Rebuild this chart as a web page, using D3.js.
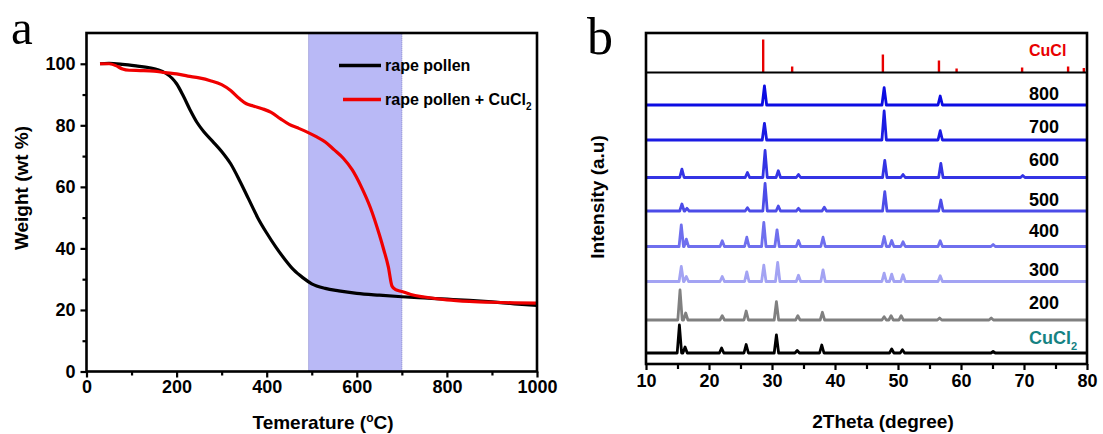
<!DOCTYPE html>
<html><head><meta charset="utf-8">
<script src="https://cdn.jsdelivr.net/npm/d3@7"></script>
<style>
html,body{margin:0;padding:0;background:#fff;}
svg{display:block;}
text{font-family:Arial,"Liberation Sans",sans-serif;font-weight:bold;fill:#000;}
</style></head>
<body>
<svg id="chart" width="1103" height="434"></svg>
<script>
// ---------- Panel a: TGA data ----------
const tempBlack = [30,50,80,110,140,160,175,190,200,215,230,245,260,280,300,320,340,360,380,400,420,440,460,480,500,530,560,600,650,700,750,800,850,900,950,1000];
const weightBlack = [100,100.1,99.8,99.3,98.7,98,97,95.3,93.5,89.5,85,81,78,74.8,71.5,67.5,62,56,50,45,40.5,36.5,33,30.5,28.5,27,26.2,25.4,24.8,24.3,23.9,23.5,23.1,22.6,22,21.5];
const tempRed = [30,50,65,80,95,120,150,175,200,225,250,275,300,320,340,355,370,390,410,430,450,470,490,510,530,550,570,590,610,630,650,660,670,678,686,700,720,750,800,850,900,950,1000];
const weightRed = [100,100,99.4,98.3,97.9,97.8,97.6,97.1,96.7,96,95.4,94.5,93.2,91.3,88.6,87,86.3,85.4,84.2,82.2,80.3,79.1,77.8,76.3,74.6,72,69.3,65.5,60,53.3,44.5,39.5,34,27.8,26.6,26,25,24.2,23.3,22.8,22.5,22.3,22.2];
const shadeRange = [493, 700];
const seriesA = ["rape pollen", "rape pollen + CuCl"];
const xTicksA = [0,200,400,600,800,1000];
const xMinorA = [100,300,500,700,900];
const yTicksA = [0,20,40,60,80,100];
const yMinorA = [10,30,50,70,90];

// ---------- Panel b: XRD data (peaks: [2theta, intensity a.u.]) ----------
const xrdLabels = ["CuCl2","200","300","400","500","600","700","800"];
const xrdOffsets = [11,44,82.5,117.5,153,186.5,224,259];
const peaksCuCl2 = [[15.3,28],[16.2,6],[22.0,5],[25.9,8.5],[30.7,18],[34.0,2.5],[37.9,8],[49.0,4],[50.7,3.3],[65.1,1.5]];
const peaks200 = [[15.4,30],[16.3,7],[22.1,4.3],[25.9,9],[30.7,18.3],[34.1,4.3],[38.0,7.7],[47.8,3.3],[48.9,4.3],[50.5,4.3],[56.6,2],[64.8,2]];
const peaks300 = [[15.6,15],[16.4,5],[22.1,5],[26.0,9.7],[28.7,16.3],[30.9,19],[34.2,6.3],[38.1,11.7],[47.8,8.3],[49.0,7.3],[50.8,6.7],[56.7,5.7]];
const peaks400 = [[15.6,21.7],[16.4,7.3],[22.1,5.7],[26.0,9.3],[28.7,24],[30.8,16.7],[34.2,6],[38.1,9.3],[47.8,10],[49.0,6],[50.8,4.7],[56.7,5.7],[65.1,2]];
const peaks500 = [[15.7,7],[16.5,2.7],[26.1,3.3],[28.9,27.7],[31.0,5],[34.2,2.7],[38.3,3.7],[47.9,19.3],[56.8,11]];
const peaks600 = [[15.7,8.3],[26.1,5],[28.9,27],[31.0,6.7],[34.2,3],[47.9,17],[50.8,3],[56.8,14],[69.8,2]];
const peaks700 = [[28.8,16.7],[47.8,29],[56.7,9.3]];
const peaks800 = [[28.8,19],[47.8,17.3],[56.7,9]];
const xrdPeaks = [peaksCuCl2,peaks200,peaks300,peaks400,peaks500,peaks600,peaks700,peaks800];
const cuclOffset = 291.5;
const cuclSticks = [[28.6,33],[33.2,6],[47.6,18],[56.5,12],[59.3,4],[69.7,5],[77.0,6],[79.5,4.5]];
const xTicksB = [10,20,30,40,50,60,70,80];
const xMinorB = [15,25,35,45,55,65,75];

// ---------- styles / layout ----------
const xrdColors = ["#000000","#808080","#a3a3f3","#6f6fee","#4c4ce8","#3434e4","#1b1be3","#0c0ce2"];
const labelColors = ["#158282","#000","#000","#000","#000","#000","#000","#000"];
const labelLift = [15.5,17,11.5,15.5,11.5,17.5,13.3,11.7];

const svg = d3.select("#chart");

// ===== Panel a =====
const xA = d3.scaleLinear().domain([0,1000]).range([86.5,537]);
const yA = d3.scaleLinear().domain([0,110]).range([371.5,33]);
const gA = svg.append("g");

gA.append("rect")
  .attr("x", xA(shadeRange[0])).attr("y", yA(110))
  .attr("width", xA(shadeRange[1]) - xA(shadeRange[0]))
  .attr("height", yA(0) - yA(110))
  .attr("fill", "#b9b9f6").attr("stroke", "#7f7fc8")
  .attr("stroke-width", 1).attr("stroke-dasharray", "1,1");

const lineA = d3.line().x(d => xA(d[0])).y(d => yA(d[1])).curve(d3.curveMonotoneX);
gA.append("path").datum(tempBlack.map((t,i)=>[t,weightBlack[i]]))
  .attr("d", lineA).attr("fill","none").attr("stroke","#000").attr("stroke-width",3.2);
gA.append("path").datum(tempRed.map((t,i)=>[t,weightRed[i]]))
  .attr("d", lineA).attr("fill","none").attr("stroke","#f00000").attr("stroke-width",3.2);

// axes
function styleAxis(g){
  g.select(".domain").remove();
  g.selectAll(".tick line").attr("stroke","#000").attr("stroke-width",2.2);
  g.selectAll(".tick text").style("font-size","18px").style("font-weight","bold")
   .style("font-family","Arial, 'Liberation Sans', sans-serif").attr("fill","#000");
}
gA.append("g").attr("transform",`translate(0,${yA(0)})`)
  .call(d3.axisBottom(xA).tickValues(xTicksA).tickSize(6).tickPadding(3).tickFormat(d3.format("d")))
  .call(styleAxis);
gA.append("g").attr("transform",`translate(0,${yA(0)})`)
  .call(d3.axisBottom(xA).tickValues(xMinorA).tickSize(4).tickFormat(""))
  .call(styleAxis);
gA.append("g").attr("transform",`translate(${xA(0)},0)`)
  .call(d3.axisLeft(yA).tickValues(yTicksA).tickSize(6).tickPadding(5).tickFormat(d3.format("d")))
  .call(styleAxis);
gA.append("g").attr("transform",`translate(${xA(0)},0)`)
  .call(d3.axisLeft(yA).tickValues(yMinorA).tickSize(4).tickFormat(""))
  .call(styleAxis);

gA.append("rect").attr("x",xA(0)).attr("y",yA(110))
  .attr("width",xA(1000)-xA(0)).attr("height",yA(0)-yA(110))
  .attr("fill","none").attr("stroke","#000").attr("stroke-width",2.6);

// legend
const legColors = ["#000","#f00000"];
const legY = [65.5, 99.5];
const legX = [[339,381],[343,381]];
seriesA.forEach((s,i)=>{
  gA.append("line").attr("x1",legX[i][0]).attr("x2",legX[i][1]).attr("y1",legY[i]).attr("y2",legY[i])
    .attr("stroke",legColors[i]).attr("stroke-width",3.5);
  const t = gA.append("text").attr("x",385).attr("y",legY[i]).attr("dy","0.35em")
    .style("font-size","16px").text(s);
  if(i===1) t.append("tspan").attr("dy","5").style("font-size","10px").text("2");
});

// titles
gA.append("text").attr("x",323).attr("y",422).attr("dy","0.35em").attr("text-anchor","middle")
  .style("font-size","19px")
  .call(t=>{ t.append("tspan").text("Temerature (");
             t.append("tspan").attr("dy","-7").style("font-size","12px").text("o");
             t.append("tspan").attr("dy","7").text("C)"); });
gA.append("text").attr("transform","translate(21,188) rotate(-90)").attr("text-anchor","middle")
  .attr("dy","0.35em").style("font-size","19px").text("Weight (wt %)");
gA.append("text").attr("x",11).attr("y",44)
  .style("font-family","'Times New Roman','Liberation Serif',serif").style("font-weight","normal")
  .style("font-size","49px").text("a");

// ===== Panel b =====
const xB = d3.scaleLinear().domain([10,80]).range([646,1087]);
const yB = d3.scaleLinear().domain([0,331]).range([364,33]);
const gB = svg.append("g");
const hw = 0.35;
function tracePoints(peaks){
  const pts = [[10,0]];
  peaks.forEach(p=>{ pts.push([p[0]-hw,0],[p[0],p[1]],[p[0]+hw,0]); });
  pts.push([80,0]);
  return pts;
}
const lineB = off => d3.line().x(d=>xB(d[0])).y(d=>yB(d[1]+off));

xrdPeaks.forEach((pk,i)=>{
  gB.append("path").datum(tracePoints(pk))
    .attr("d", lineB(xrdOffsets[i])).attr("fill","none")
    .attr("stroke", xrdColors[i]).attr("stroke-width", 2.8).attr("stroke-linejoin","round");
  const t = gB.append("text").attr("x", xB(70.8)).attr("y", yB(xrdOffsets[i]+labelLift[i]))
    .attr("dy","0.35em").style("font-size","18px").attr("fill",labelColors[i]).style("fill",labelColors[i]);
  if(xrdLabels[i]==="CuCl2"){
    t.append("tspan").text("CuCl");
    t.append("tspan").attr("dy","6").style("font-size","11px").text("2");
  } else t.text(xrdLabels[i]);
});

// CuCl reference sticks
gB.selectAll("line.stick").data(cuclSticks).enter().append("line")
  .attr("x1",d=>xB(d[0])).attr("x2",d=>xB(d[0]))
  .attr("y1",yB(cuclOffset)).attr("y2",d=>yB(cuclOffset+d[1]))
  .attr("stroke","#e80000").attr("stroke-width",2.4);
gB.append("line").attr("x1",xB(10)).attr("x2",xB(80))
  .attr("y1",yB(cuclOffset)).attr("y2",yB(cuclOffset))
  .attr("stroke","#000").attr("stroke-width",2.2);
gB.append("text").attr("x",xB(70.8)).attr("y",yB(cuclOffset+22)).attr("dy","0.35em")
  .style("font-size","16px").style("fill","#e80000").text("CuCl");

gB.append("g").attr("transform",`translate(0,${yB(0)})`)
  .call(d3.axisBottom(xB).tickValues(xTicksB).tickSize(6).tickPadding(4).tickFormat(d3.format("d")))
  .call(styleAxis);
gB.append("g").attr("transform",`translate(0,${yB(0)})`)
  .call(d3.axisBottom(xB).tickValues(xMinorB).tickSize(5).tickFormat(""))
  .call(styleAxis);
gB.append("rect").attr("x",xB(10)).attr("y",yB(331))
  .attr("width",xB(80)-xB(10)).attr("height",yB(0)-yB(331))
  .attr("fill","none").attr("stroke","#000").attr("stroke-width",2.6);

gB.append("text").attr("x",883).attr("y",421).attr("dy","0.35em").attr("text-anchor","middle")
  .style("font-size","19px").text("2Theta (degree)");
gB.append("text").attr("transform","translate(597,197) rotate(-90)").attr("text-anchor","middle")
  .attr("dy","0.35em").style("font-size","19px").text("Intensity (a.u)");
gB.append("text").attr("x",587).attr("y",54)
  .style("font-family","'Times New Roman','Liberation Serif',serif").style("font-weight","normal")
  .style("font-size","52px").text("b");
</script>
</body></html>
